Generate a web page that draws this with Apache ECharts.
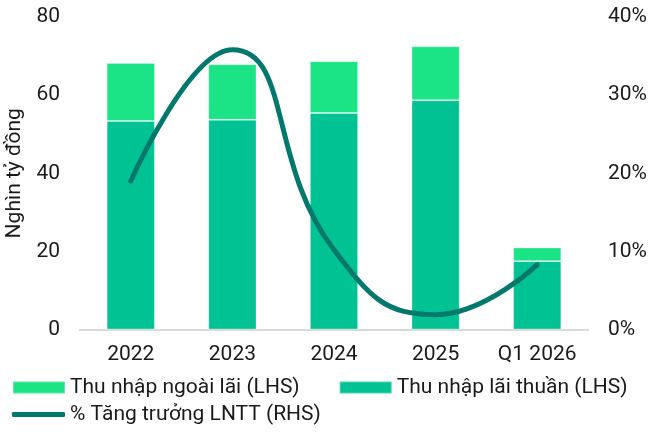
<!DOCTYPE html>
<html>
<head>
<meta charset="utf-8">
<script src="https://cdn.jsdelivr.net/npm/echarts@6/dist/echarts.min.js"></script>
<style>
  html, body { margin: 0; padding: 0; background: #ffffff; }
  #chart { width: 648px; height: 434px; }
</style>
</head>
<body>
<div id="chart"></div>
<script>
// Periods on the category axis
const categories = ['2022', '2023', '2024', '2025', 'Q1 2026'];
// Net interest income, thousand billion VND (stack bottom)
const netInterestIncome = [53.4, 53.7, 55.4, 58.7, 17.5];
// Non-interest income, thousand billion VND (stack top)
const nonInterestIncome = [14.8, 14.2, 13.3, 13.8, 3.5];
// Pre-tax profit growth, % (right axis)
const pbtGrowth = [19.0, 35.8, 10.2, 1.9, 8.3];

const names = {
  nonInterest: 'Thu nhập ngoài lãi (LHS)',
  netInterest: 'Thu nhập lãi thuần (LHS)',
  growth: '% Tăng trưởng LNTT (RHS)'
};

const FONT = 'Roboto';
const FONT_SIZE = 21;
const TEXT = '#1a1a1a';
const COLOR_LIGHT = '#1be486';
const COLOR_DARK = '#00c292';
const COLOR_LINE = '#00786b';

const chart = echarts.init(document.getElementById('chart'), null, { renderer: 'canvas' });

chart.setOption({
  animation: false,
  textStyle: { fontFamily: FONT },
  grid: {
    left: 80, right: 60, top: 17, bottom: 104.5,
    containLabel: false,
    outerBoundsMode: 'none'
  },
  legend: [
    {
      data: [names.nonInterest, names.netInterest],
      left: 7,
      top: 372,
      itemWidth: 52,
      itemHeight: 12,
      itemGap: 39,
      icon: 'rect',
      textStyle: { fontFamily: FONT, fontSize: FONT_SIZE, color: TEXT }
    },
    {
      data: [{ name: names.growth, icon: 'roundRect', itemStyle: { color: COLOR_LINE } }],
      left: 7,
      top: 399,
      itemWidth: 53,
      itemHeight: 5,
      textStyle: { fontFamily: FONT, fontSize: FONT_SIZE, color: TEXT }
    }
  ],
  xAxis: {
    type: 'category',
    data: categories,
    axisLine: { lineStyle: { color: '#d9d9d9', width: 2 } },
    axisTick: { show: false },
    axisLabel: { fontFamily: FONT, fontSize: FONT_SIZE, color: TEXT, margin: 15, interval: 0, hideOverlap: false }
  },
  yAxis: [
    {
      type: 'value',
      min: 0,
      max: 80,
      interval: 20,
      name: 'Nghìn tỷ đồng',
      nameLocation: 'middle',
      nameGap: 52,
      nameTextStyle: { fontFamily: FONT, fontSize: FONT_SIZE, color: TEXT },
      axisLine: { show: false },
      axisTick: { show: false },
      splitLine: { show: false },
      axisLabel: { fontFamily: FONT, fontSize: FONT_SIZE, color: TEXT, margin: 20 }
    },
    {
      type: 'value',
      min: 0,
      max: 40,
      interval: 10,
      axisLine: { show: false },
      axisTick: { show: false },
      splitLine: { show: false },
      axisLabel: { fontFamily: FONT, fontSize: FONT_SIZE, color: TEXT, margin: 20, formatter: '{value}%' }
    }
  ],
  series: [
    {
      name: names.netInterest,
      type: 'bar',
      stack: 'income',
      data: netInterestIncome,
      barWidth: '47.5%',
      itemStyle: { color: COLOR_DARK, borderColor: 'rgba(255,255,255,0.3)', borderWidth: 1 }
    },
    {
      name: names.nonInterest,
      type: 'bar',
      stack: 'income',
      data: nonInterestIncome,
      barWidth: '47.5%',
      itemStyle: { color: COLOR_LIGHT, borderColor: 'rgba(255,255,255,0.3)', borderWidth: 1 }
    },
    {
      name: names.growth,
      type: 'line',
      yAxisIndex: 1,
      data: pbtGrowth,
      smooth: 0.5,
      symbol: 'none',
      lineStyle: { color: COLOR_LINE, width: 5, cap: 'round', join: 'round' },
      itemStyle: { color: COLOR_LINE },
      z: 5
    }
  ]
});
</script>
</body>
</html>
